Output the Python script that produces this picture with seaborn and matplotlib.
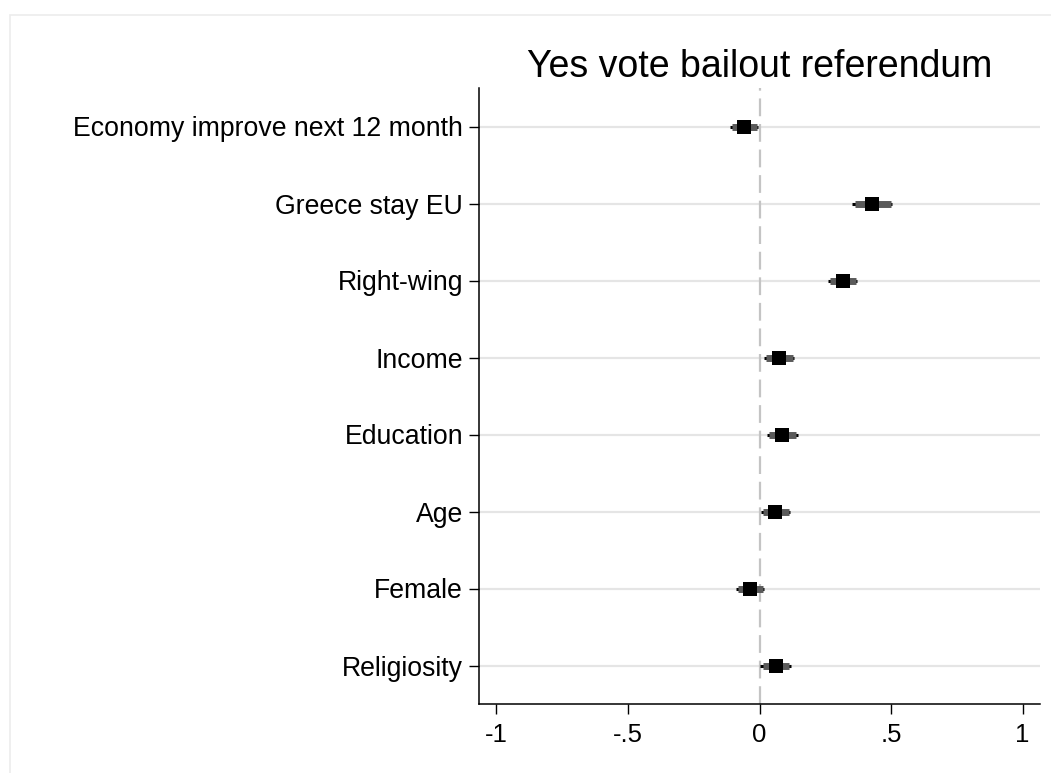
import numpy as np
import pandas as pd
import matplotlib
matplotlib.use("Agg")
import matplotlib.pyplot as plt
import seaborn as sns
from matplotlib.patches import Rectangle

labels = ["Economy improve next 12 month", "Greece stay EU", "Right-wing", "Income",
          "Education", "Age", "Female", "Religiosity"]
coef = [-0.060, 0.428, 0.316, 0.073, 0.086, 0.058, -0.038, 0.061]
ci90_lo = [-0.103, 0.364, 0.268, 0.025, 0.038, 0.013, -0.082, 0.013]
ci90_hi = [-0.010, 0.499, 0.366, 0.126, 0.139, 0.111, 0.013, 0.114]
ci95_lo = [-0.114, 0.351, 0.261, 0.016, 0.029, 0.004, -0.091, 0.003]
ci95_hi = [-0.004, 0.505, 0.372, 0.131, 0.145, 0.116, 0.018, 0.120]
xticks = [-1, -0.5, 0, 0.5, 1]
xticklabels = ["-1", "-.5", "0", ".5", "1"]
title = "Yes vote bailout referendum"

sns.set_style("white")
plt.rcParams['font.family'] = ['Liberation Sans', 'DejaVu Sans']
plt.rcParams['text.color'] = 'black'
plt.rcParams['xtick.color'] = 'black'
plt.rcParams['ytick.color'] = 'black'
plt.rcParams['axes.labelcolor'] = 'black'

df = pd.DataFrame({"label": labels, "coef": coef, "pos": np.arange(len(labels)),
                   "lo90": ci90_lo, "hi90": ci90_hi, "lo95": ci95_lo, "hi95": ci95_hi})

fig = plt.figure(figsize=(10.51, 7.73), dpi=100)
fig.patches.append(Rectangle((10/1051, -0.1), 1.2, 1 - 15/773 + 0.1, transform=fig.transFigure,
                             fill=False, edgecolor="#ececec", linewidth=1.2, zorder=0))
ax = fig.add_axes([479/1051, 69/773, 561/1051, 616/773])

for p in df["pos"]:
    ax.axhline(p, color="#e5e5e5", lw=1.6, zorder=0)
ax.axvline(0, color="#c4c4c4", lw=1.6, dashes=(8, 3.5), zorder=1)

ax.hlines(df["pos"], df["lo95"], df["hi95"], color="black", lw=2.2, zorder=2)
ax.hlines(df["pos"], df["lo90"], df["hi90"], color="#5a5a5a", lw=5, zorder=3)
sns.scatterplot(data=df, x="coef", y="pos", marker="s", s=105, color="black",
                edgecolor="black", linewidth=0, ax=ax, zorder=4, legend=False)

ax.set_xlim(-1.066, 1.066)
ax.set_ylim(len(labels) - 0.5, -0.5)
ax.set_yticks(df["pos"])
ax.set_yticklabels(labels)
ax.set_xticks(xticks)
ax.set_xticklabels(xticklabels)
ax.set_xlabel("")
ax.set_ylabel("")
ax.tick_params(axis="both", length=7.5, width=1.0, color="black",
               direction="out", left=True, bottom=True, labelcolor="black")
ax.tick_params(axis="y", labelsize=19.2, pad=4)
ax.tick_params(axis="x", labelsize=18.5, pad=6)
for s in ["top", "right"]:
    ax.spines[s].set_visible(False)
for s in ["left", "bottom"]:
    ax.spines[s].set_color("black")
    ax.spines[s].set_linewidth(1.1)
ax.set_title(title, fontsize=27, pad=8, color="black")

fig.savefig("out.png", dpi=100)
